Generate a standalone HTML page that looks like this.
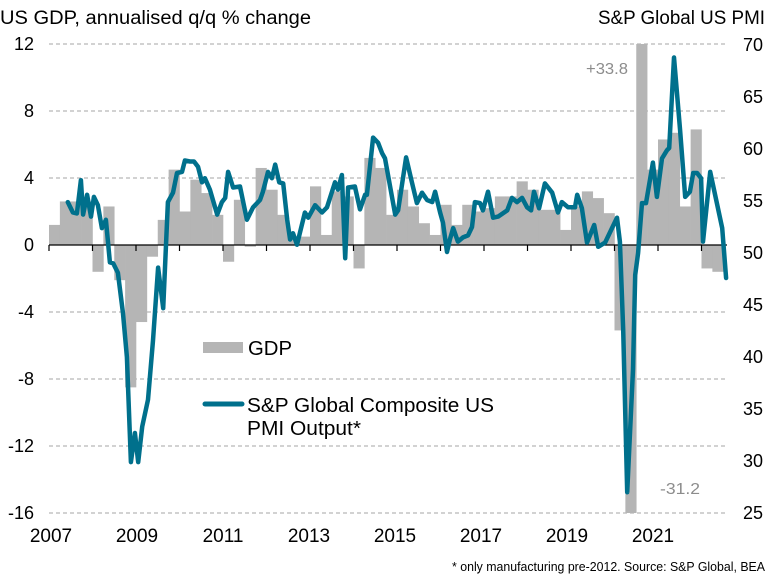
<!DOCTYPE html>
<html><head><meta charset="utf-8"><style>
html,body{margin:0;padding:0;background:#fff;}
svg{display:block;font-family:"Liberation Sans",Arial,sans-serif;}
</style></head><body>
<svg id="chart" width="774" height="580" viewBox="0 0 774 580">
<text x="0" y="24" font-size="19" textLength="311" lengthAdjust="spacingAndGlyphs" fill="#000">US GDP, annualised q/q % change</text>
<text x="598" y="24" font-size="19" textLength="167" lengthAdjust="spacingAndGlyphs" fill="#000">S&amp;P Global US PMI</text>
<g id="grid"></g><g id="bars"></g><g id="axis"></g><g id="line"></g><g id="labels"></g>
<text x="586" y="74" font-size="16" textLength="42" lengthAdjust="spacingAndGlyphs" fill="#8c8c8c">+33.8</text>
<text x="660" y="494" font-size="16" textLength="40" lengthAdjust="spacingAndGlyphs" fill="#8c8c8c">-31.2</text>
<rect x="203" y="342" width="40" height="11" fill="#b5b5b5"/>
<text x="248" y="355" font-size="20" textLength="44" lengthAdjust="spacingAndGlyphs">GDP</text>
<line x1="205" y1="404" x2="242" y2="404" stroke="#00708c" stroke-width="5" stroke-linecap="round"/>
<text x="247" y="412" font-size="20" textLength="247" lengthAdjust="spacingAndGlyphs">S&amp;P Global Composite US</text>
<text x="247" y="435" font-size="20" textLength="114" lengthAdjust="spacingAndGlyphs">PMI Output*</text>
<text x="452" y="571" font-size="12.5" textLength="313" lengthAdjust="spacingAndGlyphs">* only manufacturing pre-2012. Source: S&amp;P Global, BEA</text>
</svg>
<script>
const gdpValues=[1.2,2.6,2.6,2.6,-1.6,2.3,-2.1,-8.5,-4.6,-0.7,1.5,4.5,2.0,3.9,3.1,1.8,-1.0,2.7,-0.1,4.6,3.3,1.8,0.5,0.5,3.5,0.6,3.2,2.9,-1.4,5.2,4.6,1.8,3.3,2.3,1.3,0.6,2.4,1.2,2.4,2.0,2.2,2.9,2.9,3.8,3.3,2.1,2.1,0.9,2.3,3.2,2.8,1.9,-5.1,-31.2,33.8,4.5,6.3,6.7,2.3,6.9,-1.4,-1.6];
const pmiMonths=[5.2,6.6,7.7,8.8,9.4,10.5,11.6,12.4,13.5,14.6,15.7,16.8,17.7,19.0,20.4,21.5,22.6,23.7,24.6,25.7,27.3,28.7,30.1,31.5,32.8,34.2,35.3,36.7,37.5,38.9,40.0,41.1,42.2,43.0,44.4,46.4,47.7,48.6,49.4,50.8,52.7,54.6,56.3,58.2,59.0,60.4,61.5,62.4,63.5,64.6,65.7,66.5,67.3,68.4,70.6,71.5,73.4,75.3,76.7,78.9,79.7,80.8,81.7,82.5,84.4,85.8,87.2,87.7,89.4,90.8,91.9,92.7,95.5,96.3,98.5,100.1,101.5,102.9,104.3,105.7,106.5,107.9,108.7,109.8,110.6,111.5,112.8,114.2,115.6,116.7,117.5,118.9,119.7,121.1,122.5,123.9,126.4,127.7,129.1,130.5,131.9,133.0,133.8,135.2,136.8,138.8,140.4,141.5,143.2,145.1,145.7,147.0,148.4,150.4,151.5,153.4,155.3,156.7,157.5,158.4,159.5,161.1,161.7,162.5,163.6,164.7,166.6,167.7,169.1,170.5,171.1,172.4,174.1,175.5,176.8,177.7,178.8,179.9,180.4,182.4,185.7,186.8];
const pmiValues=[54.8,53.8,53.7,56.9,53.6,55.5,53.4,55.3,54.5,52.3,53.1,49.0,48.9,48.0,44.1,39.9,29.8,32.6,29.8,33.2,35.8,41.5,48.5,44.6,54.8,55.7,57.6,57.7,58.8,58.7,58.7,58.2,56.7,57.1,56.0,53.6,54.8,55.2,57.7,56.2,56.3,53.1,54.3,55.0,55.8,57.7,57.1,58.4,56.7,56.6,53.1,51.2,51.8,50.7,53.8,53.3,54.5,53.8,54.3,56.7,56.0,57.4,49.4,56.2,56.3,54.1,55.5,55.5,61.0,60.5,59.5,59.0,53.6,54.0,59.1,56.7,54.7,55.7,55.0,54.8,55.8,53.8,52.8,50.0,51.2,52.3,51.0,51.4,51.6,52.4,54.8,54.7,54.0,55.8,53.3,53.4,54.0,55.2,54.8,55.2,54.3,54.0,55.8,54.2,56.6,55.7,53.8,54.8,54.3,54.3,55.5,54.2,50.9,52.6,50.5,50.9,52.3,53.3,51.0,42.5,26.9,38.7,47.8,49.9,54.7,54.7,58.6,55.3,59.0,59.8,60.0,68.7,61.7,55.3,55.8,57.6,57.6,57.1,51.0,57.7,52.3,47.5];
const leftTicks=[12,8,4,0,-4,-8,-12,-16];
const rightTicks=[70,65,60,55,50,45,40,35,30,25];
const yearLabels=[2007,2009,2011,2013,2015,2017,2019,2021];

const NS="http://www.w3.org/2000/svg";
const X0=49,X1=727,YW=43.5;
const yL=v=>245-v*16.75;
const yR=v=>44+(70-v)*10.4;
const xQ=i=>X0+i*YW/4;
const xM=m=>X0+m*YW/12;
function mk(tag,attrs,parent){const e=document.createElementNS(NS,tag);for(const k in attrs)e.setAttribute(k,attrs[k]);parent.appendChild(e);return e;}
const grid=document.getElementById('grid'),bars=document.getElementById('bars'),axis=document.getElementById('axis'),line=document.getElementById('line'),labels=document.getElementById('labels');
leftTicks.forEach(t=>{
  const y=yL(t);
  if(t!==0){const g=mk('line',{x1:X0,x2:X1,y1:y,y2:y,stroke:'#a6a6a6','stroke-dasharray':'4,3','stroke-width':1},grid);
  
  }
  const tx=mk('text',{x:34,y:y+6,'font-size':18,'text-anchor':'end'},labels);tx.textContent=t;
  
  
});
rightTicks.forEach(t=>{
  const tx=mk('text',{x:743,y:yR(t)+7,'font-size':18},labels);tx.textContent=t;
  
  
});
gdpValues.forEach((v,i)=>{
  const cv=Math.max(-16,Math.min(12,v));
  const y0=yL(0),y1=yL(cv);
  const r=mk('rect',{x:xQ(i),width:YW/4+0.3,y:Math.min(y0,y1),height:Math.abs(y1-y0),fill:'#b5b5b5'},bars);
  
  
});
const ax=mk('line',{x1:X0,x2:X1,y1:yL(0),y2:yL(0),stroke:'#000','stroke-width':1.3},axis);


for(let yr=2007;yr<=2022;yr++){
  const x=X0+(yr-2007)*YW;
  const tk=mk('line',{x1:x,x2:x,y1:yL(0),y2:yL(0)+6,stroke:'#000','stroke-width':1.2},axis);
  
  
}
yearLabels.forEach(yr=>{
  const tx=mk('text',{x:51+(yr-2007)*43,y:542,'font-size':19,'text-anchor':'middle'},labels);tx.textContent=yr;
  
  
});
const pts=pmiMonths.map((m,i)=>xM(m).toFixed(1)+','+yR(pmiValues[i]).toFixed(1)).join(' ');
const pl=mk('polyline',{points:pts,fill:'none',stroke:'#00708c','stroke-width':4.5,'stroke-linejoin':'round','stroke-linecap':'round'},line);


</script>
</body></html>
